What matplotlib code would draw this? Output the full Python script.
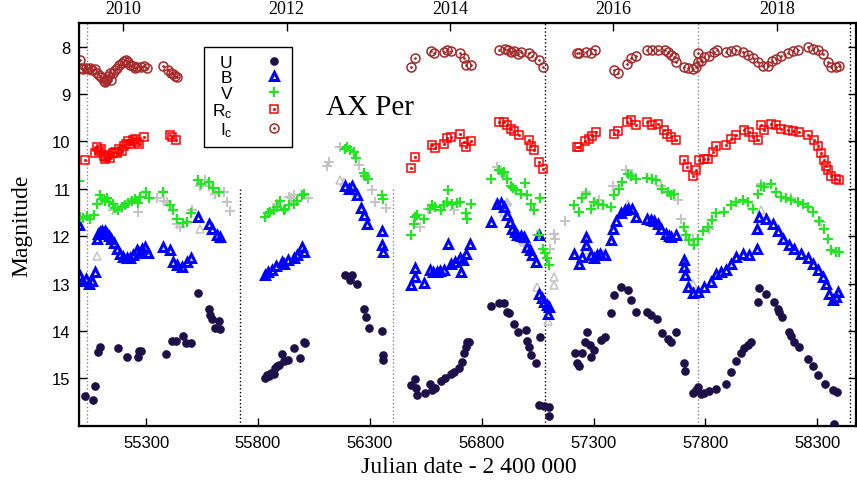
import matplotlib
matplotlib.use('Agg')
import matplotlib.pyplot as plt

plt.rcParams['font.family'] = 'Liberation Sans'
plt.rcParams['mathtext.fontset'] = 'custom'
plt.rcParams['mathtext.rm'] = 'Liberation Sans'
plt.rcParams['mathtext.it'] = 'Liberation Sans'

# ---- data: JD - 2400000 and magnitude ----
u_jd = [55027, 55064, 55072, 55084, 55094, 55173, 55213, 55265, 55268, 55277, 55389, 55414, 55434, 55464, 55479, 55500,
        55531, 55579, 55586, 55594, 55609, 55624, 55631,
        55833, 55840, 55850, 55860, 55870, 55877, 55885, 55892, 55907, 55916, 55935, 55959, 55989, 56004, 56011,
        56191, 56213, 56221, 56243, 56272, 56284, 56295, 56354, 56357, 56358,
        56482, 56504, 56506, 56512, 56546, 56571, 56579, 56593, 56616, 56638, 56661, 56676, 56698, 56713, 56720, 56728,
        56735, 56743,
        56843, 56877, 56900, 56914, 56920, 56944, 56962, 56996, 57001, 57011, 57019, 57041, 57061, 57056, 57078, 57101,
        57103,
        57217, 57228, 57235, 57250, 57260, 57269, 57284, 57290, 57302, 57332, 57352, 57378, 57392, 57422, 57452, 57467,
        57489, 57541, 57556, 57583, 57608, 57631, 57646, 57668, 57702, 57708,
        57743, 57757, 57768, 57780, 57795, 57817, 57847, 57892, 57914, 57937, 57960, 57974, 57989, 58004,
        58034, 58041, 58071, 58108, 58123, 58130, 58141, 58172, 58182, 58198, 58220, 58260, 58280, 58302, 58335, 58369,
        58389, 58376]
u_mag = [15.37, 15.46, 15.16, 14.45, 14.33, 14.35, 14.54, 14.54, 14.42, 14.43, 14.49, 14.21, 14.21, 14.10, 14.26, 14.26,
         13.20, 13.53, 13.67, 13.74, 13.93, 13.79, 13.95,
         15.00, 14.92, 14.95, 14.88, 14.90, 14.79, 14.75, 14.72, 14.49, 14.64, 14.62, 14.37, 14.58, 14.23, 14.26,
         12.82, 12.93, 12.81, 13.00, 13.53, 13.70, 13.93, 14.00, 14.51, 14.62,
         15.14, 15.01, 15.20, 15.35, 15.32, 15.11, 15.25, 15.21, 15.06, 15.00, 14.90, 14.86, 14.79, 14.65, 14.47, 14.33,
         14.23, 14.24,
         13.48, 13.40, 13.41, 13.60, 13.63, 13.86, 14.03, 13.98, 14.21, 14.33, 14.51, 14.68, 14.12, 15.56, 15.58, 15.60,
         15.79,
         14.46, 14.68, 14.75, 14.47, 14.23, 14.03, 14.30, 14.54, 14.40, 14.19, 14.12, 13.62, 13.25, 13.07, 13.14, 13.35,
         13.60, 13.60, 13.67, 13.75, 14.05, 14.16, 14.23, 14.02, 14.68, 14.85,
         15.32, 15.25, 15.18, 15.34, 15.32, 15.27, 15.23, 15.11, 14.87, 14.64, 14.47, 14.37, 14.30, 14.24,
         13.38, 13.10, 13.21, 13.38, 13.53, 13.60, 13.70, 14.03, 14.10, 14.23, 14.33, 14.59, 14.75, 14.92, 15.13, 15.25,
         15.28, 15.97]

b_jd = [55000, 55004, 55015, 55030, 55045, 55060, 55072, 55079, 55086, 55094, 55105, 55115, 55125, 55135, 55145, 55155,
        55169, 55185, 55198, 55213, 55228, 55243, 55258, 55270, 55280, 55295, 55310, 55377, 55407, 55422, 55440, 55460,
        55482, 55500, 55531, 55579, 55594, 55616, 55631,
        55833, 55845, 55863, 55880, 55907, 55916, 55935, 55959, 55975, 55997, 56004,
        56191, 56206, 56221, 56243, 56260, 56272, 56288, 56354, 56355, 56359,
        56482, 56500, 56504, 56544, 56571, 56583, 56601, 56615, 56631, 56650, 56661, 56680, 56705, 56706, 56715, 56728,
        56748,
        56843, 56870, 56885, 56900, 56914, 56925, 56937, 56948, 56959, 56975, 56989, 57004, 57015, 57026, 57041, 57056,
        57056, 57070, 57078, 57090, 57101, 57098,
        57213, 57235, 57250, 57265, 57266, 57287, 57302, 57315, 57330, 57352, 57377, 57385, 57400, 57422, 57440, 57452,
        57474, 57489, 57538, 57555, 57571, 57590, 57601, 57623, 57635, 57646, 57668,
        57702, 57705, 57709, 57720, 57743, 57765, 57795, 57825, 57847, 57870, 57892, 57914, 57937, 57966, 57996, 58030,
        58032, 58041, 58071, 58101, 58123, 58146, 58175, 58198, 58227, 58257, 58280, 58302, 58324, 58339, 58354, 58369,
        58384, 58392]
b_mag = [11.77, 12.85, 12.95, 12.90, 13.00, 12.95, 12.75, 12.05, 11.95, 11.91, 11.88, 11.90, 11.95, 12.00, 12.05, 12.15,
         12.26, 12.38, 12.44, 12.47, 12.47, 12.40, 12.30, 12.35, 12.26, 12.23, 12.35, 12.23, 12.30, 12.54, 12.60, 12.65,
         12.54, 12.46, 11.60, 11.74, 11.84, 11.97, 12.02,
         12.82, 12.76, 12.72, 12.62, 12.54, 12.58, 12.50, 12.47, 12.40, 12.23, 12.33,
         10.94, 11.00, 10.93, 11.14, 11.40, 11.56, 11.74, 11.88, 12.19, 12.33,
         13.03, 12.86, 12.68, 12.98, 12.72, 12.76, 12.75, 12.74, 12.72, 12.17, 12.58, 12.55, 12.47, 12.75, 12.50, 12.37,
         12.17,
         11.69, 11.33, 11.30, 11.38, 11.56, 11.70, 11.84, 11.92, 11.98, 12.00, 12.02, 12.23, 12.30, 12.40, 12.54, 11.98,
         13.21, 13.30, 13.38, 13.45, 13.49, 13.65,
         12.37, 12.58, 12.44, 12.02, 12.19, 12.40, 12.47, 12.40, 12.37, 12.40, 12.09, 11.84, 11.67, 11.52, 11.45, 11.42,
         11.42, 11.60, 11.63, 11.65, 11.67, 11.75, 11.84, 11.95, 12.00, 12.02, 11.98,
         12.51, 12.66, 12.82, 13.07, 13.19, 13.18, 13.07, 12.96, 12.79, 12.75, 12.72, 12.58, 12.44, 12.37, 12.40, 12.26,
         11.84, 11.60, 11.63, 11.74, 11.88, 12.05, 12.19, 12.26, 12.37, 12.47, 12.58, 12.72, 12.86, 13.00, 13.21, 13.35,
         13.28, 13.18]

v_jd = [55000, 55004, 55020, 55035, 55050, 55065, 55079, 55094, 55105, 55115, 55125, 55135, 55150, 55163, 55176, 55190,
        55205, 55220, 55235, 55250, 55262, 55273, 55300, 55313, 55377, 55407, 55422, 55437, 55467, 55482, 55500, 55531,
        55545, 55579, 55601, 55624,
        55833, 55845, 55855, 55870, 55885, 55900, 55916, 55922, 55940, 55959, 55975, 55997, 56004,
        56191, 56200, 56213, 56228, 56240, 56272, 56278, 56290, 56354, 56358,
        56482, 56496, 56504, 56512, 56544, 56571, 56580, 56593, 56616, 56630, 56646, 56650, 56668, 56690, 56705, 56728,
        56735, 56750,
        56843, 56877, 56890, 56900, 56914, 56929, 56940, 56952, 56974, 56993, 57004, 57019, 57034, 57056, 57061, 57076,
        57085, 57094, 57101,
        57213, 57235, 57250, 57265, 57287, 57302, 57320, 57340, 57377, 57392, 57414, 57429, 57452, 57467, 57489, 57541,
        57560, 57578, 57608, 57631, 57645, 57660,
        57702, 57713, 57728, 57750, 57765, 57788, 57810, 57830, 57847, 57884, 57914, 57937, 57966, 57989, 58011, 58034,
        58049, 58064, 58093, 58115, 58138, 58160, 58182, 58213, 58235, 58257, 58280, 58309, 58332, 58347, 58362, 58384,
        58399]
v_mag = [10.84, 11.60, 11.62, 11.58, 11.63, 11.55, 11.31, 11.14, 11.22, 11.25, 11.20, 11.28, 11.32, 11.40, 11.45, 11.38,
         11.35, 11.30, 11.25, 11.22, 11.30, 11.17, 11.07, 11.20, 11.07, 11.35, 11.45, 11.63, 11.73, 11.71, 11.50, 10.82,
         10.90, 10.86, 10.98, 11.07,
         11.60, 11.52, 11.49, 11.45, 11.38, 11.26, 11.45, 11.42, 11.35, 11.31, 11.25, 11.14, 11.10,
         10.15, 10.12, 10.19, 10.22, 10.35, 10.66, 10.72, 10.79, 11.14, 11.22,
         11.98, 11.74, 11.60, 11.56, 11.63, 11.42, 11.35, 11.38, 11.45, 11.35, 11.28, 11.03, 11.31, 11.30, 11.28, 11.52,
         11.63, 11.31,
         10.80, 10.61, 10.66, 10.65, 10.79, 10.93, 10.98, 11.03, 11.10, 10.88, 11.14, 11.31, 11.45, 11.98, 11.19, 12.26,
         12.35, 12.47, 12.61,
         11.35, 11.49, 11.20, 11.10, 11.42, 11.28, 11.32, 11.35, 11.38, 11.14, 11.00, 10.86, 10.68, 10.72, 10.79, 10.77,
         10.80, 10.82, 11.00, 11.07, 11.12, 11.10,
         11.80, 11.98, 12.09, 12.19, 12.05, 11.88, 11.80, 11.65, 11.52, 11.49, 11.35, 11.28, 11.24, 11.28, 11.42, 11.10,
         10.93, 10.96, 10.89, 11.07, 11.17, 11.20, 11.24, 11.28, 11.32, 11.38, 11.49, 11.67, 11.84, 12.05, 12.30, 12.33,
         12.33]

r_jd = [55027, 55072, 55079, 55090, 55100, 55110, 55115, 55120, 55130, 55140, 55150, 55160, 55170, 55180, 55190, 55200,
        55210, 55220, 55230, 55240, 55250, 55260, 55270, 55291, 55405, 55415, 55434,
        56482, 56501, 56579, 56589, 56631, 56646, 56661, 56705, 56723, 56732, 56750, 56877, 56900, 56914, 56929, 56944,
        56966, 57011, 57019, 57034, 57056, 57076,
        57228, 57235, 57260, 57279, 57294, 57310, 57392, 57410, 57449, 57467, 57489, 57541, 57559, 57586, 57615, 57627,
        57646, 57668,
        57702, 57717, 57743, 57757, 57772, 57795, 57810, 57832, 57847, 57892, 57914, 57937, 57974, 57996, 58011, 58034,
        58049, 58064, 58093, 58115, 58138, 58168, 58190, 58220, 58257, 58287, 58302, 58317, 58332, 58339, 58347, 58362,
        58384, 58399]
r_mag = [10.40, 10.24, 10.12, 10.20, 10.15, 10.30, 10.37, 10.32, 10.28, 10.35, 10.25, 10.22, 10.25, 10.15, 10.20, 10.10,
         10.05, 10.00, 10.05, 9.98, 9.95, 10.02, 10.05, 9.90, 9.87, 9.90, 9.97,
         10.56, 10.32, 10.07, 10.13, 10.06, 9.93, 9.91, 9.85, 10.01, 10.12, 10.00, 9.59, 9.58, 9.66, 9.73, 9.77,
         9.86, 9.97, 10.09, 10.19, 10.44, 10.59,
         10.12, 10.12, 10.00, 9.94, 9.89, 9.80, 9.84, 9.79, 9.58, 9.54, 9.65, 9.58, 9.66, 9.64, 9.75, 9.84,
         9.91, 9.98,
         10.40, 10.54, 10.73, 10.61, 10.40, 10.37, 10.37, 10.22, 10.09, 10.07, 9.94, 9.86, 9.75, 9.80, 9.91, 9.98,
         9.66, 9.75, 9.63, 9.65, 9.73, 9.75, 9.77, 9.80, 9.86, 9.98, 10.09, 10.25, 10.40, 10.51, 10.61, 10.72,
         10.80, 10.82]

i_jd = [55003, 55010, 55020, 55030, 55040, 55050, 55060, 55070, 55080, 55090, 55100, 55110, 55115, 55120, 55125, 55130,
        55140, 55145, 55150, 55160, 55170, 55180, 55190, 55200, 55210, 55220, 55230, 55240, 55250, 55260, 55275, 55290,
        55305, 55375, 55400, 55410, 55420, 55430, 55440,
        56482, 56500, 56574, 56586, 56631, 56646, 56661, 56701, 56720, 56729, 56750, 56877, 56902, 56916, 56930, 56945,
        56960, 56974, 57011, 57026, 57056, 57076,
        57228, 57235, 57265, 57287, 57307, 57392, 57410, 57449, 57467, 57489, 57538, 57559, 57586, 57619, 57631, 57646,
        57660, 57668,
        57705, 57720, 57743, 57757, 57768, 57769, 57780, 57795, 57817, 57839, 57851, 57892, 57914, 57937, 57966, 57989,
        58011, 58034, 58056, 58078, 58096, 58115, 58138, 58168, 58190, 58213, 58257, 58280, 58302, 58324, 58347, 58362,
        58384, 58399]
i_mag = [8.29, 8.45, 8.47, 8.44, 8.47, 8.45, 8.50, 8.47, 8.55, 8.60, 8.65, 8.72, 8.75, 8.70, 8.68, 8.62,
         8.55, 8.70, 8.55, 8.50, 8.45, 8.38, 8.35, 8.30, 8.28, 8.33, 8.38, 8.40, 8.45, 8.42, 8.42, 8.40,
         8.45, 8.40, 8.50, 8.55, 8.58, 8.62, 8.65,
         8.43, 8.24, 8.10, 8.13, 8.12, 8.08, 8.10, 8.13, 8.24, 8.38, 8.39, 8.08, 8.05, 8.07, 8.12, 8.10,
         8.15, 8.12, 8.13, 8.19, 8.28, 8.43,
         8.13, 8.13, 8.12, 8.14, 8.08, 8.50, 8.55, 8.36, 8.24, 8.19, 8.06, 8.08, 8.06, 8.08, 8.12, 8.17,
         8.22, 8.32,
         8.43, 8.46, 8.47, 8.43, 8.33, 8.13, 8.30, 8.22, 8.19, 8.12, 8.08, 8.12, 8.10, 8.08, 8.12, 8.17,
         8.24, 8.33, 8.40, 8.40, 8.30, 8.27, 8.19, 8.13, 8.10, 8.08, 8.01, 8.05, 8.08, 8.15, 8.33, 8.43,
         8.43, 8.40]

# other observers (grey)
gv_jd = [55150, 55190, 55265, 55350, 55380, 55395, 55437, 55452, 55506, 55541, 55564, 55580, 55610, 55646, 55661, 55676,
         55885, 55937, 55949, 55959, 56024, 56109, 56116, 56168, 56250, 56310, 56325, 56370, 56526, 56560, 56676, 56870,
         56914, 56989, 57046, 57105, 57121, 57128, 57172, 57265, 57325, 57385, 57445, 57474, 57601, 57678, 57693, 57743,
         57817, 58049, 58182, 58317]
gv_mag = [11.45, 11.40, 11.49, 11.20, 11.25, 11.28, 11.74, 11.80, 11.45, 10.93, 10.82, 10.93, 11.10, 11.07, 11.28, 11.47,
          11.31, 11.17, 11.20, 11.14, 11.20, 10.51, 10.44, 10.12, 10.49, 11.03, 11.28, 11.40, 11.80, 11.42, 11.45, 10.54,
          11.31, 12.16, 11.98, 12.26, 11.95, 12.05, 11.67, 11.07, 11.24, 10.93, 10.61, 10.68, 10.93, 11.24, 11.63, 12.05,
          11.84, 10.89, 11.20, 11.70]
gb_jd = [55079, 55541, 55631, 56168, 56183, 56236, 56870, 56900, 56914, 56989, 57046, 57098, 57121, 57122, 57265, 57340,
         57452, 57702, 57743, 58049, 58150]
gb_mag = [12.42, 11.84, 12.05, 10.82, 10.86, 11.07, 11.28, 11.49, 11.28, 12.12, 13.07, 13.80, 12.86, 13.03, 12.30, 12.38,
          11.31, 12.51, 13.00, 11.45, 12.05]

# reference epochs (dotted lines)
full_lines = [55036, 57084, 57766, 58446]
full_colors = ['#888888', 'black', '#888888', 'black']
part_lines = [55719, 56404]
part_colors = ['black', '#888888']

years = [2010, 2012, 2014, 2016, 2018]
year_jd = [55197.5, 55927.5, 56658.5, 57388.5, 58119.5]

# colours
c_u = '#1d0f48'
c_b = '#0000ff'
c_v = '#22e622'
c_r = '#ff0000'
c_i = '#a52a2a'
c_gray = '#c4c4c4'

fig = plt.figure(figsize=(8.57, 4.85), dpi=100)
ax = fig.add_axes([79/857, 1 - 426.7/485, 777/857, 402.7/485])

for x, c in zip(full_lines, full_colors):
    ax.axvline(x, color=c, ls=':', lw=1, zorder=1)
for x, c in zip(part_lines, part_colors):
    ax.vlines(x, 11.0, 16.0, color=c, ls=':', lw=1, zorder=1)

ax.plot(gv_jd, gv_mag, ls='none', marker='+', ms=7, mew=1.4, color=c_gray, zorder=2)
ax.plot(gb_jd, gb_mag, ls='none', marker='^', ms=5.5, mew=1.1, mfc='none', mec=c_gray, zorder=2)

hu, = ax.plot(u_jd, u_mag, ls='none', marker='o', ms=5.2, color=c_u, zorder=3)
hb, = ax.plot(b_jd, b_mag, ls='none', marker='^', ms=5.5, mew=2.2, mfc='none', mec=c_b, zorder=3)
hv, = ax.plot(v_jd, v_mag, ls='none', marker='+', ms=7, mew=1.6, color=c_v, zorder=3)
hr, = ax.plot(r_jd, r_mag, ls='none', marker='s', ms=6, mew=1.1, mfc='none', mec=c_r, zorder=3)
hr2, = ax.plot(r_jd, r_mag, ls='none', marker='s', ms=1.3, mew=0.6, color=c_r, zorder=3)
hi, = ax.plot(i_jd, i_mag, ls='none', marker='o', ms=6.5, mew=1.1, mfc='none', mec=c_i, zorder=3)
hi2, = ax.plot(i_jd, i_mag, ls='none', marker='o', ms=1.3, mew=0.6, color=c_i, zorder=3)

ax.set_xlim(55000, 58473)
ax.set_ylim(16.0, 7.5)
ax.set_xticks(range(55300, 58301, 500))
ax.set_yticks(range(8, 16))
ax.tick_params(direction='in', length=6, width=1, labelsize=12, right=True, top=False)
ax.tick_params(axis='x', pad=7)
ax.tick_params(axis='y', pad=6)
for s in ax.spines.values():
    s.set_linewidth(1.6)

top = ax.twiny()
top.set_xlim(ax.get_xlim())
top.set_xticks(year_jd)
top.set_xticklabels([str(y) for y in years], family='Liberation Serif', fontsize=13)
top.tick_params(direction='in', length=6, width=1, pad=4)

fig.text(469/857, 1 - 468/485, 'Julian date - 2 400 000', family='Liberation Serif', fontsize=17,
         ha='center', va='center')
fig.text(22/857, 1 - 226/485, 'Magnitude', family='Liberation Serif', fontsize=17,
         ha='center', va='center', rotation=90)
ax.text(0.3745, 0.791, 'AX Per', transform=ax.transAxes, family='Liberation Serif', fontsize=21,
        ha='center', va='center')

leg = ax.legend([hu, hb, hv, (hr, hr2), (hi, hi2)], ['U', 'B', 'V', r'R$_\mathrm{c}$', r'I$_\mathrm{c}$'],
                loc='upper left', bbox_to_anchor=(0.161, 0.941), borderaxespad=0, markerfirst=False,
                fontsize=12.5, labelspacing=0.02, handlelength=1.2, handletextpad=1.8, borderpad=0.45,
                fancybox=False, framealpha=1, edgecolor='black')
leg.get_frame().set_linewidth(1.0)

fig.savefig('out.png', dpi=100)
